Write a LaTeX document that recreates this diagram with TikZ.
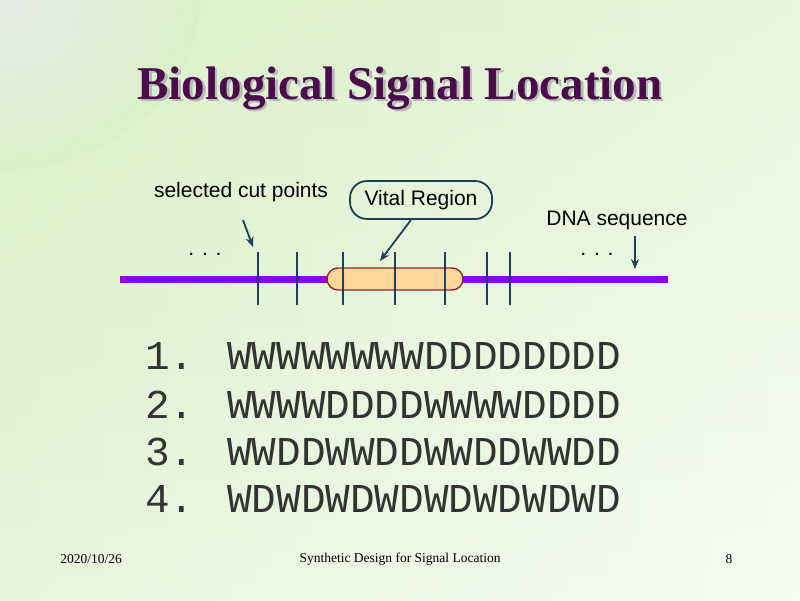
\documentclass[tikz,border=0pt]{standalone}
\usepackage{fontspec}
\usetikzlibrary{arrows.meta}
\setmainfont{Liberation Serif}
\newfontfamily\arial{Liberation Sans}
\newfontfamily\cour{Liberation Mono}
\definecolor{navy}{HTML}{1F3D5C}
\definecolor{dna}{HTML}{8F00E8}
\definecolor{cap}{HTML}{FDD89A}
\definecolor{capb}{HTML}{8B2A2A}
\definecolor{ttl}{HTML}{4A0C4A}
\definecolor{bgA}{HTML}{D8F0C8}
\definecolor{bgB}{HTML}{F6FCF0}
\begin{document}
\begin{tikzpicture}[x=1pt,y=-1pt,
  lbl/.style={font=\arial\fontsize{21}{25}\selectfont,text=black},
  arr/.style={draw=navy,line width=1.8pt,-{Stealth[length=10pt,width=8pt]}},
  tick/.style={draw=navy,line width=1.8pt},
  row/.style={font=\cour\fontsize{41}{48}\selectfont,text=black!80,anchor=west,inner sep=0},
  foot/.style={font=\fontsize{13.5}{16}\selectfont}]
\useasboundingbox (0,0) rectangle (800,600);
\shade[top color=bgA, bottom color=bgB] (0,0) rectangle (800,600);
\shade[left color=bgA,right color=bgB,opacity=0.5] (0,0) rectangle (800,600);
\shade[inner color=blue!10!gray!15!white,outer color=bgA,opacity=0.8] (0,0) ellipse (200 and 170);
\node[font=\bfseries\fontsize{47}{54}\selectfont,text=gray!55] at (402.5,90.5) {Biological Signal Location};
\node[font=\bfseries\fontsize{47}{54}\selectfont,text=ttl] (title) at (400,88) {Biological Signal Location};
\draw[dna,line width=7pt] (120,279) -- (668,279);
\node[draw=capb,fill=cap,line width=1.4pt,rounded corners=11pt,minimum width=136pt,minimum height=22pt,inner sep=0] (cap) at (395,279) {};
\foreach \x in {258,297,343,395,445,487,510} \draw[tick] (\x,252) -- (\x,305);
\node[lbl] (cut) at (241,192) {selected cut points};
\node[lbl,draw=navy,line width=1.8pt,rounded corners=17pt,minimum width=142pt,minimum height=38pt] (vr) at (421,200) {Vital Region};
\node[lbl] (dnas) at (617,220) {DNA sequence};
\node[lbl] (d1) at (205,254) {. . .};
\node[lbl] (d2) at (597,254) {. . .};
\coordinate (c1) at (243,220); \coordinate (c2) at (253,247);
\draw[arr] (c1) -- (c2);
\coordinate (v2) at (380,261);
\draw[arr] (vr.south) ++(-10,0) coordinate (v1) (v1) -- (v2);
\coordinate (s1) at (635,236); \coordinate (s2) at (635,269);
\draw[arr] (s1) -- (s2);
\node[row] (r1) at (145,356) {1. WWWWWWWWDDDDDDDD};
\node[row] (r2) at (145,405) {2. WWWWDDDDWWWWDDDD};
\node[row] (r3) at (145,452) {3. WWDDWWDDWWDDWWDD};
\node[row] (r4) at (145,499) {4. WDWDWDWDWDWDWDWD};
\node[foot] (f1) at (91,559) {2020/10/26};
\node[foot] (f2) at (400,559) {Synthetic Design for Signal Location};
\node[foot] (f3) at (729,559) {8};
\end{tikzpicture}
\end{document}
